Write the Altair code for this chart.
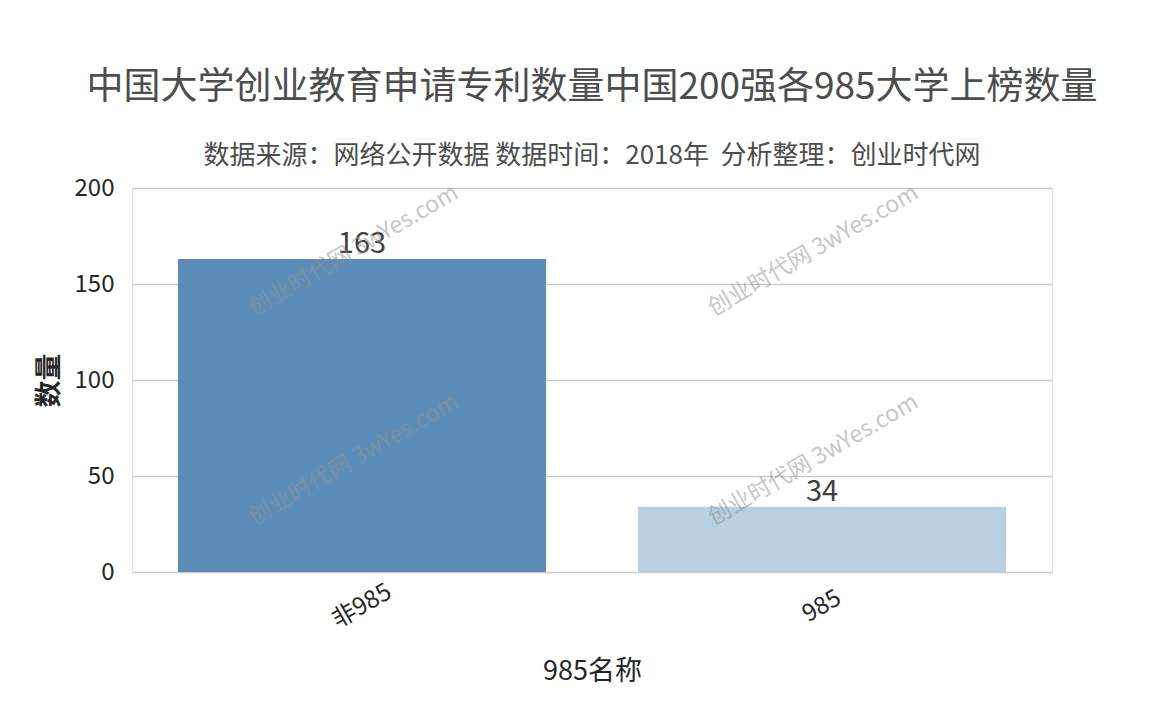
import altair as alt
import pandas as pd

categories = ["非985", "985"]
counts = [163, 34]
bar_colors = ["#5b8db8", "#b8d0e2"]

wm_categories = ["非985", "非985", "985", "985"]
wm_values = [170, 61, 170, 61]
wm_text = "创业时代网 3wYes.com"

title_text = "中国大学创业教育申请专利数量中国200强各985大学上榜数量"
subtitle_text = "数据来源：网络公开数据\u00a0数据时间：2018年\u00a0\u00a0分析整理：创业时代网"

FONT = "Noto Sans CJK SC"

df = pd.DataFrame({"name": categories, "count": counts, "color": bar_colors})
wm = pd.DataFrame({"name": wm_categories, "v": wm_values, "t": [wm_text] * len(wm_values)})

xenc = alt.X("name:N", sort=categories, title="985名称",
             scale=alt.Scale(paddingInner=0.2, paddingOuter=0.1),
             axis=alt.Axis(labelAngle=-30, labelAlign="center", labelBaseline="middle",
                           labelPadding=34, labelFontSize=24, labelColor="#262626",
                           titleFontSize=27, titleFontWeight="normal", titleColor="#262626",
                           titlePadding=26, ticks=False, domain=False, grid=False,
                           labelFont=FONT, titleFont=FONT))

yenc = alt.Y("count:Q", title="数量", scale=alt.Scale(domain=[0, 200]),
             axis=alt.Axis(values=[0, 50, 100, 150, 200], labelFontSize=24, labelColor="#262626",
                           labelPadding=18, titleFontSize=27, titleFontWeight="bold",
                           titleColor="#262626", titlePadding=11, ticks=False, domain=False,
                           gridColor="#cccccc", gridWidth=1.5, labelFont=FONT, titleFont=FONT))

bars = alt.Chart(df).mark_bar().encode(
    x=xenc, y=yenc,
    color=alt.Color("color:N", scale=None),
)

labels = alt.Chart(df).mark_text(baseline="bottom", dy=0, fontSize=29, color="#404040", font=FONT).encode(
    x=alt.X("name:N", sort=categories),
    y=alt.Y("count:Q"),
    text=alt.Text("count:Q"),
)

marks = alt.Chart(wm).mark_text(angle=330, fontSize=23, color="#909090", opacity=0.5, font=FONT, dx=-10).encode(
    x=alt.X("name:N", sort=categories),
    y=alt.Y("v:Q"),
    text="t:N",
)

chart = alt.layer(bars, labels, marks).properties(
    width=920, height=384,
    title=alt.TitleParams(text=title_text, subtitle=subtitle_text, anchor="middle",
                          fontSize=37, fontWeight="normal", color="#4d4d4d", font=FONT,
                          subtitleFontSize=26, subtitleColor="#4d4d4d", subtitleFont=FONT,
                          subtitlePadding=36, offset=6),
    padding={"left": 124, "top": 180, "right": 90, "bottom": 130},
    autosize=alt.AutoSizeParams(type="none"),
).configure_view(stroke="#cccccc", strokeWidth=2).configure(background="white")

chart.save("out.html", embed_options={"renderer": "svg", "actions": False})
